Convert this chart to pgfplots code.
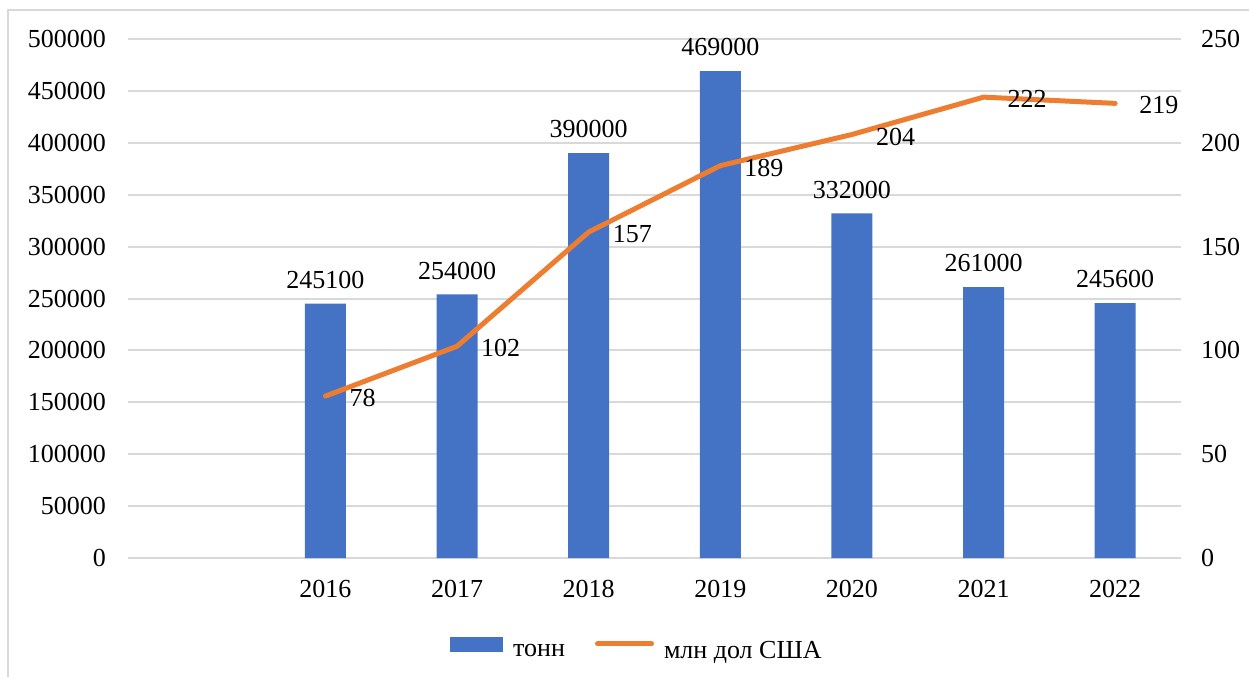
\documentclass[border=0pt]{standalone}
\usepackage{fontspec}
\setmainfont{Liberation Serif}
\usepackage{pgfplots}
\pgfplotsset{compat=1.18}
\definecolor{barblue}{HTML}{4472C4}
\definecolor{lineor}{HTML}{ED7D31}
\definecolor{gridgray}{HTML}{D9D9D9}
\definecolor{framegray}{HTML}{D9D9D9}
\begin{document}
\begin{tikzpicture}[x=1pt,y=1pt,font=\fontsize{13}{15}\selectfont]
\path[use as bounding box] (0,0) rectangle (624.5,-338.5);
\draw[framegray, line width=0.75pt] (4,-338.5) -- (4,-5) -- (624.5,-5);
\begin{axis}[
  at={(64pt,-279pt)}, anchor=south west,
  scale only axis, width=526.5pt, height=259.5pt,
  xmin=-0.5, xmax=7.5, ymin=0, ymax=500000,
  axis line style={draw=none}, major tick length=0pt,
  ytick={0,50000,...,500000},
  ymajorgrids, grid style={gridgray, line width=1pt},
  xtick={1,2,3,4,5,6,7},
  xticklabels={2016,2017,2018,2019,2020,2021,2022},
  scaled y ticks=false,
  /pgf/number format/.cd, fixed, precision=0, 1000 sep={}, assume math mode=true,
  /pgfplots/.cd,
  ytick pos=left,
  yticklabel style={xshift=-7.5pt},
  xticklabel style={yshift=-7.5pt},
  ybar, bar width=20.5pt,
  nodes near coords,
  every node near coord/.append style={anchor=south, yshift=4pt, font=\fontsize{13}{15}\selectfont},
]
\addplot[fill=barblue, draw=none] coordinates {
  (1,245100) (2,254000) (3,390000) (4,469000) (5,332000) (6,261000) (7,245600)
};
\end{axis}
\begin{axis}[
  at={(64pt,-279pt)}, anchor=south west,
  scale only axis, width=526.5pt, height=259.5pt,
  xmin=-0.5, xmax=7.5, ymin=0, ymax=250,
  axis line style={draw=none}, major tick length=0pt,
  ytick={0,50,...,250}, xtick=\empty,
  ytick pos=right, yticklabel pos=right,
  yticklabel style={xshift=6.5pt},
  /pgf/number format/assume math mode=true,
  legend columns=2,
  legend style={draw=none, fill=none, at={(0.4843,-0.1792)}, anchor=center,
    /tikz/every even column/.append style={column sep=13pt},
    /tikz/every odd column/.append style={column sep=3pt},
    font=\fontsize{13}{15}\selectfont, inner sep=0pt},
  legend cell align=left,
]
\addlegendimage{legend image code/.code={\fill[barblue] (0pt,0.25pt) rectangle (26pt,7.25pt);}}
\addlegendentry{тонн}
\addplot[lineor, line width=2.5pt, line cap=round, line join=round,
  legend image code/.code={\draw[lineor, line width=2.5pt, line cap=round] (0pt,3.75pt) -- (27pt,3.75pt);},
  nodes near coords,
  every node near coord/.append style={anchor=west, xshift=7.5pt, yshift=-1pt, text=black, font=\fontsize{13}{15}\selectfont}]
coordinates {
  (1,78) (2,102) (3,157) (4,189) (5,204) (6,222) (7,219)
};
\addlegendentry{млн дол США}
\end{axis}
\end{tikzpicture}
\end{document}
